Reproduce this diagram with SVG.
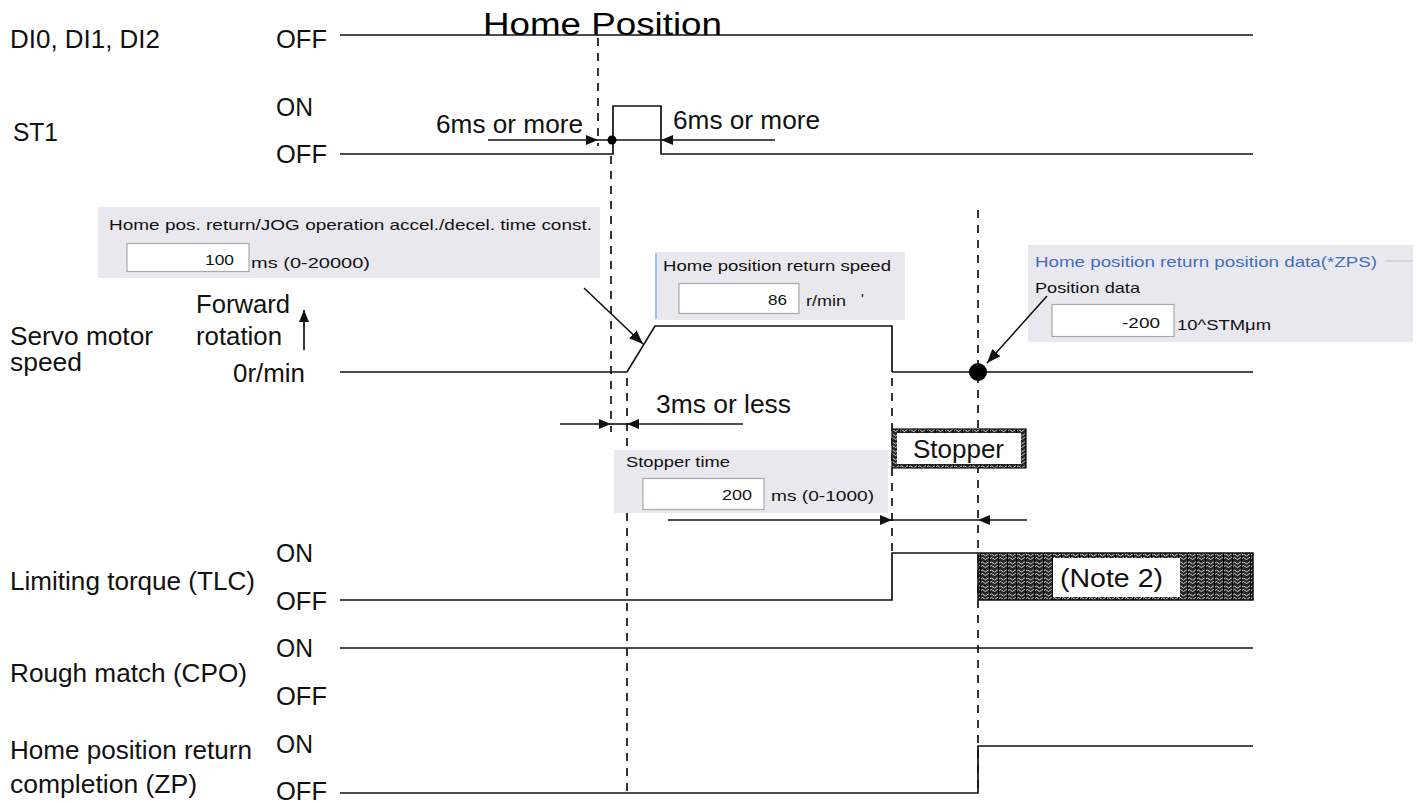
<svg xmlns="http://www.w3.org/2000/svg" width="1422" height="803" viewBox="0 0 1422 803">
<defs>
<style>
.lbl{font-family:"Liberation Sans",Arial,sans-serif;font-size:25px;fill:#111}
.big{font-family:"Liberation Sans",Arial,sans-serif;font-size:31px;fill:#000}
.ui{font-family:"Liberation Sans",Arial,sans-serif;font-size:15px;fill:#111}
.uib{font-family:"Liberation Sans",Arial,sans-serif;font-size:15px;fill:#3f6fbf}
.sig{fill:none;stroke:#111;stroke-width:1.7}
.dash{fill:none;stroke:#111;stroke-width:1.7;stroke-dasharray:8 7}
.dim{fill:none;stroke:#111;stroke-width:1.6}
.panel{fill:#e9e8ef}
.field{fill:#fff;stroke:#a9a9a9;stroke-width:1.2}
</style>
<marker id="ah" markerUnits="userSpaceOnUse" markerWidth="13" markerHeight="11" refX="12" refY="5" orient="auto">
<path d="M0,0 L12,5 L0,10 z" fill="#111"/>
</marker>
<marker id="ahl" markerUnits="userSpaceOnUse" markerWidth="15" markerHeight="12" refX="14" refY="5.5" orient="auto">
<path d="M0,0 L14,5.5 L0,11 z" fill="#111"/>
</marker>
<pattern id="hatch" width="9" height="8" patternUnits="userSpaceOnUse">
<rect width="9" height="8" fill="#262626"/>
<path d="M0,3 q1.5,-2 3,0 t3,0 t3,0 M0,6.5 q1.5,-2 3,0 t3,0 t3,0" stroke="#e0e0e0" stroke-width="0.9" fill="none"/>
<path d="M8.5,0 V8" stroke="#000" stroke-width="1"/>
</pattern>
</defs>

<text class="big" x="483" y="35" textLength="239" lengthAdjust="spacingAndGlyphs">Home Position</text>

<g id="row-di">
<text class="lbl" x="10" y="48" textLength="150" lengthAdjust="spacingAndGlyphs">DI0, DI1, DI2</text>
<text class="lbl" x="276" y="48" textLength="51" lengthAdjust="spacingAndGlyphs">OFF</text>
<path class="sig" d="M340,35 H1253"/>
</g>

<g id="row-st1">
<text class="lbl" x="13" y="141" textLength="45" lengthAdjust="spacingAndGlyphs">ST1</text>
<text class="lbl" x="276" y="116" textLength="37" lengthAdjust="spacingAndGlyphs">ON</text>
<text class="lbl" x="276" y="163" textLength="51" lengthAdjust="spacingAndGlyphs">OFF</text>
<path class="sig" d="M340,154 H613 V106 H661 V154 H1253"/>
</g>

<g id="row-speed">
<text class="lbl" x="10" y="345" textLength="143" lengthAdjust="spacingAndGlyphs">Servo motor</text>
<text class="lbl" x="10" y="371" textLength="72" lengthAdjust="spacingAndGlyphs">speed</text>
<text class="lbl" x="196" y="313" textLength="94" lengthAdjust="spacingAndGlyphs">Forward</text>
<text class="lbl" x="196" y="345" textLength="86" lengthAdjust="spacingAndGlyphs">rotation</text>
<text class="lbl" x="233" y="382" textLength="72" lengthAdjust="spacingAndGlyphs">0r/min</text>
<path class="sig" d="M304,350 V310" marker-end="url(#ah)"/>
<path class="sig" d="M340,372 H627 L655,326 H892 V372 M892,372 H1253"/>
<circle cx="978" cy="372" r="9" fill="#000"/>
</g>

<g id="row-tlc">
<text class="lbl" x="10" y="590" textLength="245" lengthAdjust="spacingAndGlyphs">Limiting torque (TLC)</text>
<text class="lbl" x="276" y="562" textLength="37" lengthAdjust="spacingAndGlyphs">ON</text>
<text class="lbl" x="276" y="610" textLength="51" lengthAdjust="spacingAndGlyphs">OFF</text>
<path class="sig" d="M340,600 H892 V553 H978"/>
<rect x="978" y="553" width="275" height="47" fill="url(#hatch)" stroke="#111" stroke-width="1.5"/>
<rect x="1053" y="558" width="127" height="39" fill="#fff"/>
<text class="lbl" x="1060" y="587" textLength="103" lengthAdjust="spacingAndGlyphs">(Note 2)</text>
</g>

<g id="row-cpo">
<text class="lbl" x="10" y="682" textLength="237" lengthAdjust="spacingAndGlyphs">Rough match (CPO)</text>
<text class="lbl" x="276" y="657" textLength="37" lengthAdjust="spacingAndGlyphs">ON</text>
<text class="lbl" x="276" y="705" textLength="51" lengthAdjust="spacingAndGlyphs">OFF</text>
<path class="sig" d="M340,648 H1253"/>
</g>

<g id="row-zp">
<text class="lbl" x="10" y="759" textLength="242" lengthAdjust="spacingAndGlyphs">Home position return</text>
<text class="lbl" x="10" y="793" textLength="187" lengthAdjust="spacingAndGlyphs">completion (ZP)</text>
<text class="lbl" x="276" y="753" textLength="37" lengthAdjust="spacingAndGlyphs">ON</text>
<text class="lbl" x="276" y="800" textLength="51" lengthAdjust="spacingAndGlyphs">OFF</text>
<path class="sig" d="M340,793 H978 V746 H1253"/>
</g>

<g id="guides">
<path class="dash" d="M598,38 V146"/>
<path class="dash" d="M611,156 V432"/>
<path class="dash" d="M627,378 V792"/>
<path class="dash" d="M892,378 V552"/>
<path class="dash" d="M978,210 V792"/>
</g>

<g id="panel-accel">
<rect class="panel" x="98" y="207" width="502" height="71"/>
<text class="ui" x="109" y="230" textLength="483" lengthAdjust="spacingAndGlyphs">Home pos. return/JOG operation accel./decel. time const.</text>
<rect class="field" x="127" y="243.5" width="122" height="28"/>
<text class="ui" x="234" y="265" text-anchor="end" textLength="29" lengthAdjust="spacingAndGlyphs">100</text>
<text class="ui" x="251" y="268" font-size="14" textLength="119" lengthAdjust="spacingAndGlyphs">ms (0-20000)</text>
</g>

<g id="panel-speed">
<rect class="panel" x="655" y="252" width="250" height="68"/>
<path d="M656,253 V319" stroke="#9cc3ec" stroke-width="2"/>
<text class="ui" x="663" y="271" textLength="228" lengthAdjust="spacingAndGlyphs">Home position return speed</text>
<rect class="field" x="679" y="283.5" width="120" height="30"/>
<text class="ui" x="787" y="305" text-anchor="end" textLength="19" lengthAdjust="spacingAndGlyphs">86</text>
<text class="ui" x="806" y="306" textLength="40" lengthAdjust="spacingAndGlyphs">r/min</text>
<text class="ui" x="861" y="304" font-size="10">'</text>
</g>

<g id="panel-zps">
<rect class="panel" x="1028" y="245" width="385" height="97"/>
<text class="uib" x="1035" y="267" textLength="342" lengthAdjust="spacingAndGlyphs">Home position return position data(*ZPS)</text>
<path d="M1385,261 H1413" stroke="#c8c8c8" stroke-width="1.2"/>
<text class="ui" x="1035" y="293" textLength="105" lengthAdjust="spacingAndGlyphs">Position data</text>
<rect class="field" x="1052" y="304.5" width="122" height="32"/>
<text class="ui" x="1160" y="328" text-anchor="end" textLength="38" lengthAdjust="spacingAndGlyphs">-200</text>
<text class="ui" x="1177" y="330" textLength="94" lengthAdjust="spacingAndGlyphs">10^STMμm</text>
</g>

<g id="panel-stopper-time">
<rect class="panel" x="614" y="450" width="274" height="63"/>
<text class="ui" x="626" y="467" textLength="104" lengthAdjust="spacingAndGlyphs">Stopper time</text>
<rect class="field" x="643" y="478.5" width="121" height="31"/>
<text class="ui" x="752" y="500" text-anchor="end" textLength="30" lengthAdjust="spacingAndGlyphs">200</text>
<text class="ui" x="771" y="501" textLength="103" lengthAdjust="spacingAndGlyphs">ms (0-1000)</text>
</g>

<g id="stopper">
<rect x="892" y="429" width="134" height="39" fill="url(#hatch)" stroke="#111" stroke-width="1.2"/>
<rect x="897" y="433" width="124" height="31" fill="#fff"/>
<text class="lbl" x="913" y="458" textLength="91" lengthAdjust="spacingAndGlyphs">Stopper</text>
</g>

<g id="connectors">
<path class="dim" d="M488,140 H598" marker-end="url(#ah)"/>
<path class="dim" d="M598,140 H661"/>
<path class="dim" d="M775,140 H661" marker-end="url(#ah)"/>
<circle cx="612" cy="140" r="4.5" fill="#000"/>
<text class="lbl" x="436" y="133" textLength="147" lengthAdjust="spacingAndGlyphs">6ms or more</text>
<text class="lbl" x="673" y="129" textLength="147" lengthAdjust="spacingAndGlyphs">6ms or more</text>

<path class="dim" d="M560,424 H611" marker-end="url(#ah)"/>
<path class="dim" d="M611,424 H627"/>
<path class="dim" d="M743,424 H627" marker-end="url(#ah)"/>
<text class="lbl" x="656" y="413" textLength="135" lengthAdjust="spacingAndGlyphs">3ms or less</text>

<path class="dim" d="M668,520 H892" marker-end="url(#ah)"/>
<path class="dim" d="M892,520 H978"/>
<path class="dim" d="M1027,520 H978" marker-end="url(#ah)"/>

<path class="dim" d="M584,288 L643,344" marker-end="url(#ahl)"/>
<path class="dim" d="M1047,296 L987,363" marker-end="url(#ahl)"/>
</g>
</svg>
